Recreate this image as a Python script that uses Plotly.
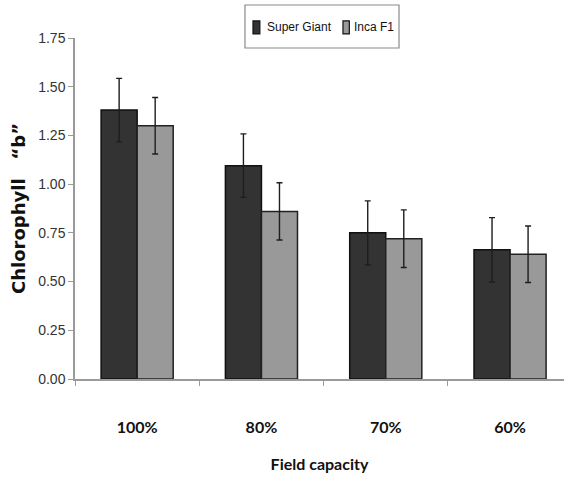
import plotly.graph_objects as go

# Chlorophyll "b" content under four irrigation levels (field capacity)
capacity = ["100%", "80%", "70%", "60%"]
series_names = ["Super Giant", "Inca F1"]
super_giant = [1.38, 1.095, 0.75, 0.663]
super_giant_err = [0.163, 0.163, 0.164, 0.165]
inca_f1 = [1.30, 0.86, 0.72, 0.64]
inca_f1_err = [0.145, 0.147, 0.148, 0.145]
y_ticks = [0.00, 0.25, 0.50, 0.75, 1.00, 1.25, 1.50, 1.75]

fills = ["#333333", "#999999"]
outlines = ["#111111", "#222222"]
narrow = "Liberation Sans Narrow, Arial Narrow, Liberation Sans, Arial, sans-serif"
bold_sans = "Lato, sans-serif"

fig = go.Figure()
for name, vals, errs, fill, edge in zip(series_names,
                                        [super_giant, inca_f1],
                                        [super_giant_err, inca_f1_err],
                                        fills, outlines):
    fig.add_trace(go.Bar(
        name=name, x=capacity, y=vals, showlegend=False,
        marker=dict(color=fill, line=dict(color=edge, width=1.5)),
        error_y=dict(type="data", array=errs, color="#1e1e1e",
                     thickness=1.4, width=3),
    ))

# Compact boxed key above the bars
key_shapes = [dict(
    type="rect", xref="paper", yref="paper",
    x0=0.3476, x1=0.6626, y0=0.9707, y1=1.0968,
    line=dict(color="#8a8a8a", width=1.2), fillcolor="rgba(0,0,0,0)",
)]
key_annotations = []
for (sx0, sx1, tx), fill, name in zip([(0.364, 0.378, 0.3886),
                                      (0.548, 0.561, 0.5665)],
                                     fills, series_names):
    key_shapes.append(dict(
        type="rect", xref="paper", yref="paper",
        x0=sx0, x1=sx1, y0=1.012, y1=1.050,
        line=dict(color="#111111", width=1.2), fillcolor=fill,
    ))
    key_annotations.append(dict(
        xref="paper", yref="paper", x=tx, y=1.031,
        xanchor="left", yanchor="middle", showarrow=False,
        text=name, font=dict(family=narrow, size=12, color="#111111"),
    ))

fig.update_layout(
    width=564, height=487,
    margin=dict(l=75, r=0, t=38, b=108),
    paper_bgcolor="white", plot_bgcolor="white",
    barmode="group", bargap=0.42, bargroupgap=0,
    shapes=key_shapes, annotations=key_annotations,
)

fig.update_xaxes(
    range=[-0.5, 3.434],
    showline=True, linecolor="#9a9a9a", linewidth=1.5,
    ticks="outside", tickson="boundaries", ticklen=5, tickcolor="#9a9a9a",
    showgrid=False, zeroline=False,
    ticklabelstandoff=33,
    tickfont=dict(family=bold_sans, size=16, color="#111111", weight="bold"),
    title=dict(text="Field capacity", standoff=24,
               font=dict(family=bold_sans, size=16, color="#111111", weight="bold")),
)
fig.update_yaxes(
    range=[0, 1.75], tickvals=y_ticks,
    ticktext=[f"{v:.2f}" for v in y_ticks],
    showline=True, linecolor="#9a9a9a", linewidth=1.5,
    ticks="outside", ticklen=5, tickcolor="#9a9a9a",
    showgrid=False, zeroline=False,
    tickfont=dict(family=narrow, size=14, color="#333333"),
    title=dict(text="Chlorophyll\u00a0\u00a0\u00a0\u201cb\u201d", standoff=8,
               font=dict(family="DejaVu Sans, Verdana, sans-serif", size=18,
                         color="#111111", weight="bold")),
)

fig.write_html("out.html")
